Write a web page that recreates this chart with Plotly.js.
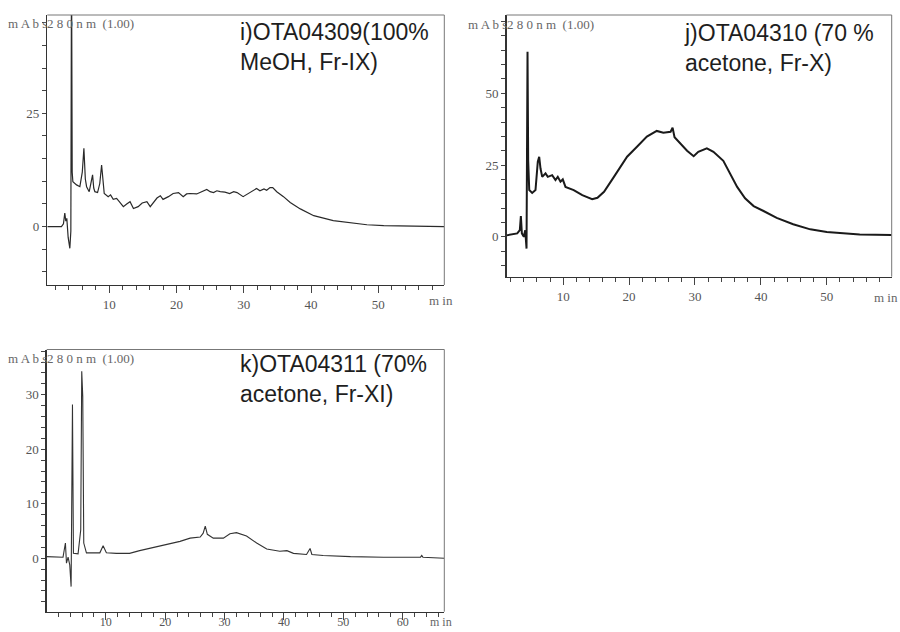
<!DOCTYPE html>
<html>
<head>
<meta charset="utf-8">
<script src="https://cdn.plot.ly/plotly-3.0.1.min.js"></script>
<style>
  html, body { margin: 0; padding: 0; background: #ffffff; }
  #chart { width: 900px; height: 632px; }
</style>
</head>
<body>
<div id="chart"></div>
<script>
// ---- Data (retention time in min, absorbance in mAbs at 280 nm) ----
const iTime = [0.8, 2.9, 3.2, 3.4, 3.55, 3.7, 3.9, 4.15, 4.3, 4.4, 4.5, 4.6, 5.15, 5.64, 6.0, 6.24, 6.45, 6.64, 7.03, 7.3, 7.53, 7.7, 7.87, 8.27, 8.6, 8.87, 9.1, 9.26, 9.85, 10.2, 10.6, 11.1, 11.5, 12.1, 12.6, 13.1, 13.6, 14.3, 14.9, 15.6, 16.1, 16.6, 17.1, 17.6, 18.0, 18.8, 19.5, 20.3, 21.0, 21.5, 22.0, 23.0, 23.8, 24.5, 25.0, 25.5, 26.0, 26.5, 27.2, 27.9, 28.5, 29.0, 29.9, 30.6, 31.4, 31.9, 32.4, 33.0, 33.4, 33.9, 34.3, 34.9, 35.9, 36.9, 38.4, 40.4, 43.3, 45.8, 48.3, 50.8, 55.7, 59.8];
const iAbs  = [0, 0, 0.6, 3.0, 1.2, 1.8, -2.4, -4.8, -1, 60, 12, 9.9, 9.2, 8.8, 12, 17.3, 10.5, 8.8, 7.7, 9.5, 11.4, 8.5, 7.7, 7.5, 9.5, 13.6, 9.0, 7.3, 6.6, 7.0, 6.0, 6.2, 5.5, 4.4, 5.0, 5.5, 4.0, 4.4, 5.2, 5.5, 4.4, 5.4, 6.3, 6.8, 6.0, 6.6, 7.3, 7.5, 6.6, 7.2, 7.3, 7.2, 7.8, 8.2, 7.7, 7.5, 7.9, 7.7, 7.6, 7.3, 7.7, 7.5, 6.6, 7.2, 8.0, 8.4, 7.9, 8.3, 8.0, 8.6, 8.6, 7.7, 6.6, 5.3, 3.9, 2.4, 1.3, 0.8, 0.4, 0.2, 0.1, 0];

const jTime = [1.4, 3.03, 3.42, 3.58, 3.73, 4.03, 4.24, 4.44, 4.59, 4.69, 4.85, 5.3, 5.8, 6.15, 6.36, 6.56, 6.82, 7.32, 7.67, 8.33, 8.83, 9.18, 9.59, 9.94, 10.35, 11.6, 12.9, 14.4, 15.2, 16.2, 17.7, 19.7, 21.2, 22.7, 24.2, 25.2, 26.3, 26.6, 26.9, 27.8, 28.8, 29.8, 30.5, 31.8, 32.8, 34.3, 35.3, 36.4, 37.6, 38.9, 40.4, 42.4, 44.9, 47.5, 50.0, 52.5, 55.0, 59.85];
const jAbs  = [0.5, 1.2, 2.3, 7.2, 1.2, 0, 2.3, -4.1, 64.5, 26.7, 16.3, 15.3, 16.3, 26.2, 27.9, 23.8, 20.9, 22.1, 20.9, 21.5, 19.8, 20.9, 19.2, 20.0, 17.4, 16.3, 14.5, 13.1, 13.6, 15.7, 20.9, 27.9, 31.4, 34.9, 36.9, 36.3, 36.6, 38.0, 34.7, 32.3, 30.0, 28.1, 29.6, 30.8, 29.6, 26.5, 22.1, 17.4, 13.4, 10.7, 9.0, 6.6, 4.4, 2.6, 1.7, 1.2, 0.8, 0.6];

const kTime = [0, 2.8, 3.2, 3.38, 3.65, 3.93, 4.16, 4.39, 4.55, 5.33, 5.78, 5.95, 6.12, 6.29, 6.74, 9.0, 9.55, 10.1, 11.8, 14.0, 15.7, 18.0, 20.2, 22.5, 24.2, 25.9, 26.4, 26.75, 27.1, 28.1, 29.8, 30.9, 32.0, 33.7, 35.4, 37.1, 39.3, 40.5, 41.6, 43.8, 44.4, 44.7, 46.6, 51.2, 56.8, 63.0, 63.2, 63.4, 67];
const kAbs  = [0.3, 0.2, 2.8, -0.9, 0.2, -1.2, -5.2, 28.2, 0.9, 0.8, 5.2, 34.3, 29.7, 2.8, 1.0, 1.0, 2.3, 1.0, 0.9, 0.9, 1.4, 2.0, 2.6, 3.1, 3.7, 3.9, 4.6, 5.9, 4.4, 3.7, 3.7, 4.5, 4.7, 4.1, 2.8, 1.7, 1.3, 1.4, 0.9, 0.7, 1.8, 0.7, 0.5, 0.3, 0.2, 0.2, 0.5, 0.2, 0];

// tick steps (labelled) and minor tick steps
const iYStep = 25, jYStep = 25, kYStep = 10, xStep = 10;
const iYMinor = 5, jYMinor = 5, kYMinor = 2, xMinor = 2;

const panelTitles = [
  "i)OTA04309(100%<br>MeOH, Fr-IX)",
  "j)OTA04310 (70 %<br>acetone, Fr-X)",
  "k)OTA04311 (70%<br>acetone, Fr-XI)"
];
const headerUnit = "m A b s";
const headerWave = "2 8 0 n m  (1.00)";
const timeUnit = "m in";

// ---- Styling ----
const W = 900, H = 632;
const px = v => v / W;
const py = v => 1 - v / H;
const tickFont = { family: "Liberation Serif, serif", size: 13, color: "#555" };
const axisCommon = {
  showline: true, linecolor: "#333", linewidth: 1.4,
  showgrid: false, zeroline: false,
  ticks: "outside", tickcolor: "#444", tickwidth: 1,
  tickfont: tickFont, fixedrange: true, tickmode: "linear", tick0: 0
};
function xAxis(domain, anchor, range, standoff, fontSize) {
  return Object.assign({}, axisCommon, {
    domain, anchor, range, dtick: xStep, ticklen: 7, ticklabelstandoff: standoff,
    tickfont: Object.assign({}, tickFont, { size: fontSize }),
    minor: { tickmode: "linear", tick0: 0, dtick: xMinor, ticks: "outside", ticklen: 4, tickcolor: "#444", tickwidth: 1, showgrid: false }
  });
}
function yAxis(domain, anchor, range, step, minorStep, alias) {
  return Object.assign({}, axisCommon, {
    domain, anchor, range, dtick: step, ticklen: 4, labelalias: alias || {},
    minor: { tickmode: "linear", tick0: 0, dtick: minorStep, ticks: "outside", ticklen: 4, tickcolor: "#444", tickwidth: 1, showgrid: false }
  });
}

const traces = [
  { x: iTime, y: iAbs, xaxis: "x", yaxis: "y", type: "scatter", mode: "lines",
    line: { color: "#2a2a2a", width: 1.2 }, hoverinfo: "skip" },
  { x: jTime, y: jAbs, xaxis: "x2", yaxis: "y2", type: "scatter", mode: "lines",
    line: { color: "#1a1a1a", width: 2 }, hoverinfo: "skip" },
  { x: kTime, y: kAbs, xaxis: "x3", yaxis: "y3", type: "scatter", mode: "lines",
    line: { color: "#333", width: 1.1 }, hoverinfo: "skip" }
];

const dom = {
  i: { x: [px(47.3), px(444.3)], y: [py(285), py(15)] },
  j: { x: [px(506.5), px(891.7)], y: [py(276.7), py(15)] },
  k: { x: [px(46.7), px(444.3)], y: [py(611.7), py(349.5)] }
};

const titleFont = { family: "Liberation Sans, Arial, sans-serif", size: 23, color: "#1e1e1e" };
const headFont = { family: "Liberation Serif, serif", size: 13, color: "#666" };

function frameShapes(xr, yr) {
  return [
    { type: "line", xref: xr + " domain", yref: yr + " domain", x0: 0, x1: 1, y0: 1, y1: 1, line: { color: "#777", width: 1 } },
    { type: "line", xref: xr + " domain", yref: yr + " domain", x0: 1, x1: 1, y0: 0, y1: 1, line: { color: "#777", width: 1 } }
  ];
}

const annotations = [
  { text: panelTitles[0], xref: "paper", yref: "paper", x: px(238), y: py(47.5), xanchor: "left", yanchor: "middle", align: "left", showarrow: false, font: titleFont },
  { text: panelTitles[1], xref: "paper", yref: "paper", x: px(682), y: py(48.5), xanchor: "left", yanchor: "middle", align: "left", showarrow: false, font: titleFont },
  { text: panelTitles[2], xref: "paper", yref: "paper", x: px(238), y: py(379), xanchor: "left", yanchor: "middle", align: "left", showarrow: false, font: titleFont },
  // headers
  { text: headerUnit, xref: "paper", yref: "paper", x: px(49), y: py(24), xanchor: "right", yanchor: "middle", showarrow: false, font: headFont },
  { text: headerWave, xref: "paper", yref: "paper", x: px(45), y: py(24), xanchor: "left", yanchor: "middle", showarrow: false, font: headFont },
  { text: headerUnit, xref: "paper", yref: "paper", x: px(509), y: py(25), xanchor: "right", yanchor: "middle", showarrow: false, font: headFont },
  { text: headerWave, xref: "paper", yref: "paper", x: px(505), y: py(25), xanchor: "left", yanchor: "middle", showarrow: false, font: headFont },
  { text: headerUnit, xref: "paper", yref: "paper", x: px(49), y: py(358), xanchor: "right", yanchor: "middle", showarrow: false, font: headFont },
  { text: headerWave, xref: "paper", yref: "paper", x: px(45), y: py(358), xanchor: "left", yanchor: "middle", showarrow: false, font: headFont },
  // min labels
  { text: timeUnit, xref: "paper", yref: "paper", x: px(441), y: py(300), xanchor: "center", yanchor: "middle", showarrow: false, font: headFont },
  { text: timeUnit, xref: "paper", yref: "paper", x: px(886), y: py(297), xanchor: "center", yanchor: "middle", showarrow: false, font: headFont },
  { text: timeUnit, xref: "paper", yref: "paper", x: px(441), y: py(622), xanchor: "center", yanchor: "middle", showarrow: false, font: Object.assign({}, headFont, { size: 12 }) }
];

const layout = {
  width: W, height: H,
  margin: { l: 0, r: 0, t: 0, b: 0 },
  paper_bgcolor: "#ffffff", plot_bgcolor: "rgba(0,0,0,0)",
  showlegend: false,
  xaxis: xAxis(dom.i.x, "y", [0.8, 59.8], 0, 13),
  yaxis: yAxis(dom.i.y, "x", [-12.9, 46.7], iYStep, iYMinor),
  xaxis2: xAxis(dom.j.x, "y2", [1.4, 59.85], 0, 13),
  yaxis2: yAxis(dom.j.y, "x2", [-13.9, 77.3], jYStep, jYMinor, { "75": " " }),
  xaxis3: xAxis(dom.k.x, "y3", [0.05, 67], -9, 12),
  yaxis3: yAxis(dom.k.y, "x3", [-9.8, 38.3], kYStep, kYMinor),
  shapes: [].concat(frameShapes("x", "y"), frameShapes("x2", "y2"), frameShapes("x3", "y3")),
  annotations: annotations
};

Plotly.newPlot("chart", traces, layout, { staticPlot: true, displayModeBar: false });
</script>
</body>
</html>
